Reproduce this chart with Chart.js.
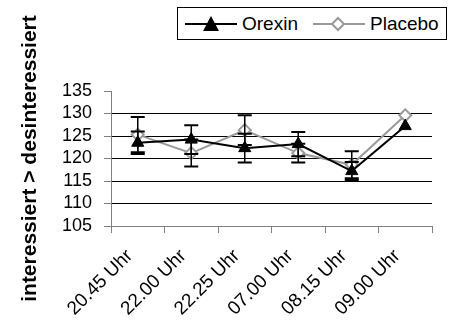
<!DOCTYPE html>
<html>
<head>
<meta charset="utf-8">
<script src="https://cdn.jsdelivr.net/npm/chart.js@4.4.1/dist/chart.umd.min.js"></script>
<style>
    html, body { margin: 0; padding: 0; background: #fff; }
    #wrap { position: relative; width: 451px; height: 324px; }
    #legend {
        position: absolute; left: 177px; top: 7px; width: 270px; height: 33px;
        border: 1px solid #000; background: #fff; box-sizing: border-box;
        font-family: 'Liberation Sans', Arial, sans-serif; font-size: 19px; color: #000;
    }
    #legend .item { position: absolute; top: 0; height: 31px; line-height: 31px; }
    #legend svg { position: absolute; top: 7px; }
</style>
</head>
<body>
<div id="wrap">
    <canvas id="chart" width="451" height="324"></canvas>
    <div id="legend">
        <div class="item" style="left:6px">
            <svg width="54" height="18" style="left:0"><line x1="1" y1="9" x2="53" y2="9" stroke="#000" stroke-width="2"/><polygon points="27,1 35,16 19,16" fill="#000"/></svg>
            <span style="position:absolute;left:58px;">Orexin</span>
        </div>
        <div class="item" style="left:134px">
            <svg width="54" height="18" style="left:0"><line x1="1" y1="9" x2="53" y2="9" stroke="#999" stroke-width="2"/><polygon points="26,3 32,9 26,15 20,9" fill="#fff" stroke="#999" stroke-width="2"/></svg>
            <span style="position:absolute;left:58px;">Placebo</span>
        </div>
    </div>
</div>
<script>
    // Data
    const labels = ['20.45 Uhr', '22.00 Uhr', '22.25 Uhr', '07.00 Uhr', '08.15 Uhr', '09.00 Uhr'];
    const orexin = [123.5, 124.2, 122.3, 123.2, 117.2, 127.2];
    const orexinErr = [2.5, 3.2, 3.2, 2.7, 2.0, 0];
    const placebo = [125.3, 121.2, 126.3, 121.2, 118.6, 129.6];
    const placeboErr = [3.9, 3.0, 3.3, 2.1, 3.0, 0];
    const yTicks = [105, 110, 115, 120, 125, 130, 135];

    const font = "'Liberation Sans', Arial, sans-serif";

    // Error bars drawn through the chart's own scales
    const errorBars = {
        id: 'errorBars',
        afterDatasetsDraw(chart) {
            const ctx = chart.ctx;
            const x = chart.scales.x, y = chart.scales.y;
            const sets = [[orexin, orexinErr], [placebo, placeboErr]];
            ctx.save();
            ctx.strokeStyle = '#000';
            sets.forEach(([vals, errs]) => {
                vals.forEach((v, i) => {
                    if (!errs[i]) return;
                    const px = x.getPixelForValue(i);
                    const top = y.getPixelForValue(v + errs[i]);
                    const bot = y.getPixelForValue(v - errs[i]);
                    ctx.lineWidth = 1.5;
                    ctx.beginPath();
                    ctx.moveTo(px, top); ctx.lineTo(px, bot);
                    ctx.stroke();
                    ctx.lineWidth = 2;
                    ctx.beginPath();
                    ctx.moveTo(px - 7, top); ctx.lineTo(px + 7, top);
                    ctx.moveTo(px - 7, bot); ctx.lineTo(px + 7, bot);
                    ctx.stroke();
                });
            });
            ctx.restore();
        }
    };

    const ctx = document.getElementById('chart').getContext('2d');
    new Chart(ctx, {
        type: 'line',
        data: {
            labels: labels,
            datasets: [{
                label: 'Orexin',
                data: orexin,
                borderColor: '#000',
                backgroundColor: '#000',
                borderWidth: 2,
                pointStyle: 'triangle',
                pointRadius: 7,
                pointBorderWidth: 1,
                tension: 0
            }, {
                label: 'Placebo',
                data: placebo,
                borderColor: '#999',
                backgroundColor: '#fff',
                borderWidth: 2,
                pointStyle: 'rectRot',
                pointRadius: 6,
                pointBorderWidth: 2,
                tension: 0
            }]
        },
        options: {
            responsive: false,
            animation: false,
            layout: { padding: { top: 91, right: 19, left: 0, bottom: 0 } },
            plugins: {
                legend: { display: false },
                tooltip: { enabled: false }
            },
            scales: {
                x: {
                    offset: true,
                    afterFit: s => { s.height = 98; },
                    grid: {
                        offset: true,
                        drawOnChartArea: false,
                        tickLength: 7,
                        tickColor: '#808080'
                    },
                    border: { color: '#808080', width: 1 },
                    ticks: {
                        color: '#000',
                        font: { family: font, size: 19 },
                        minRotation: 45,
                        maxRotation: 45,
                        labelOffset: -8,
                        padding: 12
                    }
                },
                y: {
                    min: yTicks[0],
                    max: yTicks[yTicks.length - 1],
                    afterFit: s => { s.width = 111; },
                    afterBuildTicks: s => { s.ticks = yTicks.map(v => ({ value: v })); },
                    grid: {
                        color: c => (c.tick && c.tick.value === 135) ? 'rgba(0,0,0,0)' : '#000',
                        tickColor: '#808080',
                        tickLength: 7
                    },
                    border: { color: '#808080', width: 1 },
                    ticks: {
                        autoSkip: false,
                        color: '#000',
                        font: { family: font, size: 18 },
                        padding: 12
                    },
                    title: {
                        display: true,
                        text: 'interessiert > desinteressiert',
                        color: '#000',
                        font: { family: font, size: 21, weight: 'bold' },
                        padding: { top: 18, bottom: 0 }
                    }
                }
            }
        },
        plugins: [errorBars]
    });
</script>
</body>
</html>
